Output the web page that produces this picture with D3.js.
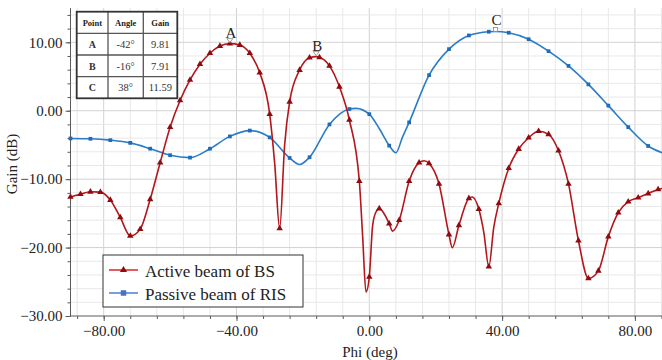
<!DOCTYPE html>
<html>
<head>
<meta charset="utf-8">
<script src="https://cdn.jsdelivr.net/npm/d3@7"></script>
<style>
    body { margin: 0; background: #fff; }
    svg text { font-family: "Liberation Serif", "Times New Roman", serif !important; }
</style>
</head>
<body>
<script>
// active beam of BS (red), angle in deg, gain in dB
var activeAngles = [-90, -87, -84, -81, -78, -75, -72, -69, -66, -63, -60, -57, -54, -51, -48, -45, -42, -39, -36, -33, -30, -28.5, -27, -25.5, -24, -21, -18, -16, -15, -12, -9, -6, -3, -2, -1, 0, 1, 2, 3, 6, 7, 9, 12, 15, 16.5, 18, 21, 24, 25, 27, 30, 31, 33, 34.5, 36, 37.5, 39, 42, 45, 48, 51, 54, 57, 60, 63, 66, 69, 72, 75, 78, 81, 84, 87, 90];
var activeGains = [-12.6, -12.2, -11.85, -11.9, -13.05, -15.6, -18.3, -17.3, -12.95, -7.6, -2.4, 1.5, 4.5, 6.8, 8.4, 9.45, 9.81, 9.6, 8.4, 5.55, -0.5, -7.7, -17.2, -5.0, 1.3, 5.95, 7.75, 7.91, 7.8, 6.55, 3.5, -1.35, -10.3, -18.4, -26.5, -24.3, -16.8, -14.8, -14.3, -16.5, -17.6, -16.0, -10.3, -7.6, -7.3, -7.7, -10.7, -18.1, -20.0, -16.75, -12.8, -12.6, -14.4, -17.8, -22.8, -17.0, -13.55, -8.4, -5.6, -3.95, -3.0, -3.45, -5.85, -10.7, -19.0, -24.5, -23.4, -18.4, -14.9, -13.3, -12.7, -12.1, -11.5, -11.2];

// passive beam of RIS (blue)
var passiveAngles = [-90, -84, -78, -72, -66, -60, -54, -48, -42, -36, -30, -24, -21, -18, -12, -6, -4, 0, 3, 6, 8, 10, 12, 18, 24, 30, 36, 38, 42, 48, 54, 60, 66, 72, 78, 84, 90];
var passiveGains = [-4.05, -4.1, -4.3, -4.7, -5.55, -6.5, -6.85, -5.55, -3.75, -2.9, -3.9, -6.9, -7.85, -6.8, -2.0, 0.25, 0.35, -0.5, -2.6, -5.1, -6.15, -3.85, -1.7, 5.2, 9.0, 11.0, 11.55, 11.59, 11.4, 10.45, 8.7, 6.55, 3.85, 0.75, -2.4, -5.15, -6.4];

// marked points A, B, C
var pointNames = ["A", "B", "C"];
var pointAngles = [-42, -16, 38];
var pointGains = [9.81, 7.91, 11.59];

var seriesNames = ["Active beam of BS", "Passive beam of RIS"];
var yTicks = [-30, -20, -10, 0, 10];
var xTicks = [-80, -40, 0, 40, 80];

var serif = "'Liberation Serif', 'Times New Roman', serif";
var width = 662,
    height = 360;

var x = d3.scaleLinear().domain([-90, 90]).range([70.5, 668.1]);
var y = d3.scaleLinear().domain([-30, 15]).range([316, 8.1]);

var svg = d3.select("body").append("svg")
    .attr("width", width)
    .attr("height", height)
    .attr("font-family", serif);

// grid lines, every 8 deg and every 2 dB
var grid = svg.append("g");
grid.selectAll(".vg")
    .data(d3.range(-88, 89, 8))
    .enter().append("line")
    .attr("x1", function (d) { return x(d); })
    .attr("x2", function (d) { return x(d); })
    .attr("y1", y(15))
    .attr("y2", y(-30))
    .attr("stroke", function (d) { return d % 40 === 0 ? "#d2d2d2" : "#e8e8e8"; })
    .attr("stroke-width", 1);
grid.selectAll(".hg")
    .data(d3.range(-28, 15, 2))
    .enter().append("line")
    .attr("x1", x(-90))
    .attr("x2", width)
    .attr("y1", function (d) { return y(d); })
    .attr("y2", function (d) { return y(d); })
    .attr("stroke", function (d) { return d % 10 === 0 ? "#d2d2d2" : "#e8e8e8"; })
    .attr("stroke-width", 1);

// axes
var fmt = d3.format(".2f");
var yAxis = svg.append("g")
    .attr("transform", "translate(" + x(-90) + ",0)")
    .call(d3.axisLeft(y).tickValues(yTicks).tickFormat(fmt).tickSize(5).tickPadding(3));
svg.append("g")
    .attr("transform", "translate(" + x(-90) + ",0)")
    .call(d3.axisLeft(y).tickValues(d3.range(-30, 15, 2)).tickFormat("").tickSize(3))
    .select(".domain").remove();
var xAxis = svg.append("g")
    .attr("transform", "translate(0," + y(-30) + ")")
    .call(d3.axisBottom(x).tickValues(xTicks).tickFormat(fmt).tickSize(5).tickPadding(4));
svg.append("g")
    .attr("transform", "translate(0," + y(-30) + ")")
    .call(d3.axisBottom(x).tickValues(d3.range(-88, 89, 8)).tickFormat("").tickSize(3))
    .select(".domain").remove();

svg.selectAll("g").attr("font-family", serif);
svg.selectAll(".domain, .tick line").attr("stroke", "#5a5a5a");
yAxis.select(".domain").attr("d", "M0," + y(-30) + "V" + y(15));
xAxis.select(".domain").attr("d", "M" + x(-90) + ",0H" + width);
svg.selectAll(".tick text")
    .attr("fill", "#222")
    .attr("font-size", 15);

// axis titles
svg.append("text")
    .attr("transform", "translate(17,164) rotate(-90)")
    .attr("text-anchor", "middle")
    .attr("font-size", 15)
    .attr("fill", "#222")
    .text("Gain (dB)");
svg.append("text")
    .attr("x", 370)
    .attr("y", 357)
    .attr("text-anchor", "middle")
    .attr("font-size", 15)
    .attr("fill", "#222")
    .text("Phi (deg)");

// curves
var plot = svg.append("g");
function lineFor(angles, gains) {
    return d3.line()
        .x(function (d, i) { return x(angles[i]); })
        .y(function (d, i) { return y(gains[i]); })
        .curve(d3.curveMonotoneX)(angles);
}

plot.append("path")
    .attr("d", lineFor(passiveAngles, passiveGains))
    .attr("fill", "none")
    .attr("stroke", "#2a7cc7")
    .attr("stroke-width", 1.6);

plot.append("path")
    .attr("d", lineFor(activeAngles, activeGains))
    .attr("fill", "none")
    .attr("stroke", "#b3161c")
    .attr("stroke-width", 1.6);

// markers: blue every 6 deg, red every 3 deg
var tri = d3.symbol().type(d3.symbolTriangle).size(18);
var sq = d3.symbol().type(d3.symbolSquare).size(14);

plot.selectAll(".bm")
    .data(passiveAngles.map(function (a, i) { return [a, passiveGains[i]]; })
        .filter(function (d) { return d[0] % 6 === 0; }))
    .enter().append("path")
    .attr("d", sq)
    .attr("transform", function (d) { return "translate(" + x(d[0]) + "," + y(d[1]) + ")"; })
    .attr("fill", "#1f6bb8");

plot.selectAll(".rm")
    .data(activeAngles.map(function (a, i) { return [a, activeGains[i]]; })
        .filter(function (d) { return d[0] % 3 === 0; }))
    .enter().append("path")
    .attr("d", tri)
    .attr("transform", function (d) { return "translate(" + x(d[0]) + "," + y(d[1]) + ")"; })
    .attr("fill", "#8e0b0f");

// peak markers with letters
pointNames.forEach(function (n, i) {
    var px = x(pointAngles[i]),
        py = y(pointGains[i]);
    if (n === "C") {
        svg.append("rect")
            .attr("x", px - 2).attr("y", py - 4)
            .attr("width", 4).attr("height", 4)
            .attr("fill", "#fff").attr("stroke", "#888").attr("stroke-width", 0.8);
    } else {
        svg.append("path")
            .attr("d", "M" + (px - 3) + "," + (py - 5) + "H" + (px + 3) + "L" + px + "," + (py - 1) + "Z")
            .attr("fill", "#fff").attr("stroke", "#888").attr("stroke-width", 0.8);
    }
    svg.append("text")
        .attr("x", px + 1)
        .attr("y", py - 6)
        .attr("text-anchor", "middle")
        .attr("font-size", 15)
        .attr("fill", "#222")
        .text(n);
});

// table of points
var colX = [76.7, 108, 143.3, 177.3],
    rowY = [11.7, 33.3, 55, 76.7, 98.3];
var table = svg.append("g");
table.append("rect")
    .attr("x", colX[0]).attr("y", rowY[0])
    .attr("width", colX[3] - colX[0]).attr("height", rowY[4] - rowY[0])
    .attr("fill", "#fff");
colX.slice(1, 3).forEach(function (cx) {
    table.append("line").attr("x1", cx).attr("x2", cx).attr("y1", rowY[0]).attr("y2", rowY[4])
        .attr("stroke", "#555").attr("stroke-width", 1.3);
});
rowY.slice(1, 4).forEach(function (ry) {
    table.append("line").attr("x1", colX[0]).attr("x2", colX[3]).attr("y1", ry).attr("y2", ry)
        .attr("stroke", "#555").attr("stroke-width", 1.3);
});
table.append("rect")
    .attr("x", colX[0]).attr("y", rowY[0])
    .attr("width", colX[3] - colX[0]).attr("height", rowY[4] - rowY[0])
    .attr("fill", "none").attr("stroke", "#333").attr("stroke-width", 1.8);

var header = ["Point", "Angle", "Gain"];
header.forEach(function (h, j) {
    table.append("text")
        .attr("x", (colX[j] + colX[j + 1]) / 2)
        .attr("y", (rowY[0] + rowY[1]) / 2 + 3)
        .attr("text-anchor", "middle")
        .attr("font-size", 8.5)
        .attr("font-weight", "bold")
        .attr("fill", "#222")
        .text(h);
});
pointNames.forEach(function (n, i) {
    var cells = [n, pointAngles[i] + "°", pointGains[i].toFixed(2)];
    cells.forEach(function (c, j) {
        table.append("text")
            .attr("x", (colX[j] + colX[j + 1]) / 2)
            .attr("y", (rowY[i + 1] + rowY[i + 2]) / 2 + 3.8)
            .attr("text-anchor", "middle")
            .attr("font-size", j === 0 ? 10 : 10.5)
            .attr("font-weight", j === 0 ? "bold" : "normal")
            .attr("fill", "#333")
            .text(c);
    });
});

// legend
var legend = svg.append("g");
legend.append("rect")
    .attr("x", 103).attr("y", 255)
    .attr("width", 200).attr("height", 52)
    .attr("fill", "#fff").attr("stroke", "#333").attr("stroke-width", 1);
var legColors = ["#d9262b", "#4a7fd0"],
    legMark = ["#8e0b0f", "#4472c4"];
seriesNames.forEach(function (s, i) {
    var ly = 270 + i * 23;
    legend.append("line")
        .attr("x1", 109).attr("x2", 138).attr("y1", ly).attr("y2", ly)
        .attr("stroke", legColors[i]).attr("stroke-width", 1.5);
    legend.append("path")
        .attr("d", i === 0 ? d3.symbol().type(d3.symbolTriangle).size(22) : d3.symbol().type(d3.symbolSquare).size(30))
        .attr("transform", "translate(123.5," + ly + ")")
        .attr("fill", legMark[i]);
    legend.append("text")
        .attr("x", 145)
        .attr("y", ly + 6.5)
        .attr("font-size", 17)
        .attr("fill", "#222")
        .text(s);
});
</script>
</body>
</html>
